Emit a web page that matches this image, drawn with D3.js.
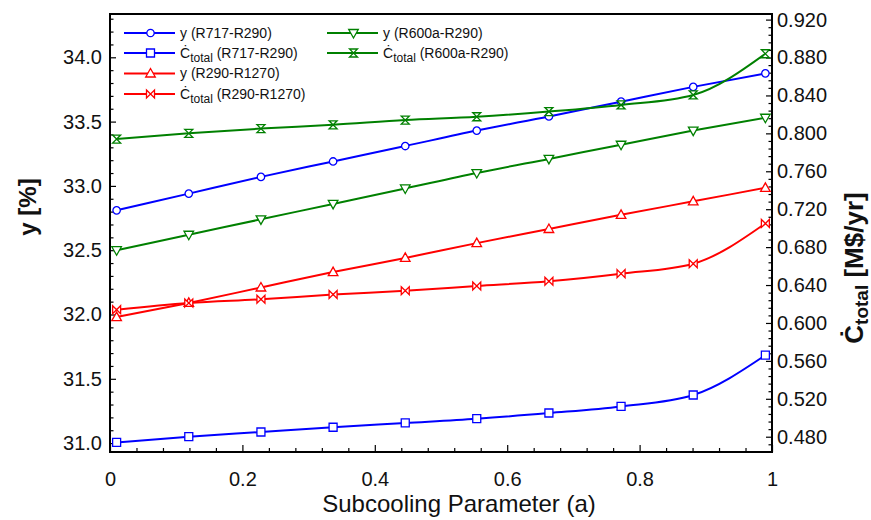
<!DOCTYPE html>
<html>
<head>
<meta charset="utf-8">
<script src="https://cdn.jsdelivr.net/npm/d3@7"></script>
<style>
  html, body { margin: 0; padding: 0; background: #fff; }
  svg { display: block; font-family: "Liberation Sans", Arial, sans-serif; }
</style>
</head>
<body>
<svg id="chart" width="871" height="520"></svg>
<script>
// Subcooling parameter values (x)
const aValues = [0.01, 0.119, 0.228, 0.337, 0.446, 0.554, 0.663, 0.772, 0.881, 0.99];

// Exergy efficiency y [%] (left axis)
const yR717R290  = [32.81, 32.94, 33.07, 33.19, 33.31, 33.43, 33.54, 33.655, 33.77, 33.875];
const yR290R1270 = [31.98, 32.09, 32.21, 32.33, 32.44, 32.555, 32.665, 32.775, 32.88, 32.985];
const yR600aR290 = [32.50, 32.62, 32.74, 32.86, 32.98, 33.10, 33.21, 33.32, 33.43, 33.53];

// Total cost rate [M$/yr] (right axis)
const cR717R290  = [0.474, 0.480, 0.485, 0.490, 0.4945, 0.499, 0.505, 0.512, 0.524, 0.566];
const cR290R1270 = [0.614, 0.621, 0.625, 0.630, 0.634, 0.639, 0.644, 0.652, 0.6625, 0.705];
const cR600aR290 = [0.794, 0.800, 0.805, 0.809, 0.814, 0.8175, 0.823, 0.830, 0.8405, 0.884];

// Tick labels
const xTicks = [0, 0.2, 0.4, 0.6, 0.8, 1];
const xTickLabels = ["0", "0.2", "0.4", "0.6", "0.8", "1"];
const yLeftTicks = [31.0, 31.5, 32.0, 32.5, 33.0, 33.5, 34.0];
const yRightTicks = [0.48, 0.52, 0.56, 0.60, 0.64, 0.68, 0.72, 0.76, 0.80, 0.84, 0.88, 0.92];

const seriesDefs = [
  { key: "yR717",  label: "y", pair: "(R717-R290)",   values: yR717R290,  axis: "left",  color: "#0000ff", marker: "circle" },
  { key: "cR717",  label: "C", pair: "(R717-R290)",   values: cR717R290,  axis: "right", color: "#0000ff", marker: "square" },
  { key: "yR290",  label: "y", pair: "(R290-R1270)",  values: yR290R1270, axis: "left",  color: "#ff0000", marker: "triUp" },
  { key: "cR290",  label: "C", pair: "(R290-R1270)",  values: cR290R1270, axis: "right", color: "#ff0000", marker: "bowtie" },
  { key: "yR600a", label: "y", pair: "(R600a-R290)",  values: yR600aR290, axis: "left",  color: "#008000", marker: "triDown" },
  { key: "cR600a", label: "C", pair: "(R600a-R290)",  values: cR600aR290, axis: "right", color: "#008000", marker: "hourglass" }
];

const plot = { left: 110, top: 14, right: 772, bottom: 452 };

const x = d3.scaleLinear().domain([0, 1]).range([plot.left, plot.right]);
const yL = d3.scaleLinear().domain([30.9308, 34.3367]).range([plot.bottom, plot.top]);
const yR = d3.scaleLinear().domain([0.46388, 0.92591]).range([plot.bottom, plot.top]);

const svg = d3.select("#chart");

// marker path generators centred on (0,0)
function markerPath(type) {
  const s = 4;
  switch (type) {
    case "square": return `M${-s},${-s}H${s}V${s}H${-s}Z`;
    case "triUp": return `M0,${-s - 1}L${s + 0.8},${s - 0.5}H${-s - 0.8}Z`;
    case "triDown": return `M0,${s + 1}L${s + 0.8},${-s + 0.5}H${-s - 0.8}Z`;
    case "bowtie": return `M${-s},${-s}L${s},${s}V${-s}L${-s},${s}Z`;
    case "hourglass": return `M${-s},${-s}H${s}L${-s},${s}H${s}Z`;
    default: return null;
  }
}

function drawMarker(g, type, color) {
  if (type === "circle") {
    g.append("circle").attr("r", 3.7).attr("fill", "#fff").attr("stroke", color).attr("stroke-width", 1.3);
  } else {
    g.append("path").attr("d", markerPath(type)).attr("fill", "#fff")
      .attr("stroke", color).attr("stroke-width", 1.3).attr("stroke-linejoin", "miter");
  }
}

// ---- axes ----
const axisG = svg.append("g");

// minor ticks
const xMinor = d3.range(0, 1.0001, 0.04).filter(v => !xTicks.some(t => Math.abs(t - v) < 1e-6));
const yLMinor = d3.range(31.0, 34.3001, 0.1).filter(v => !yLeftTicks.some(t => Math.abs(t - v) < 1e-6));
const yRMinor = d3.range(0.472, 0.9251, 0.008).filter(v => !yRightTicks.some(t => Math.abs(t - v) < 1e-6));

const bottomAxis = d3.axisBottom(x).tickValues(xTicks).tickFormat((d, i) => xTickLabels[i]).tickSizeInner(-7).tickSizeOuter(0).tickPadding(20);
const bottomMinor = d3.axisBottom(x).tickValues(xMinor).tickFormat("").tickSizeInner(-4).tickSizeOuter(0);
const leftAxis = d3.axisLeft(yL).tickValues(yLeftTicks).tickFormat(d3.format(".1f")).tickSizeInner(-6).tickSizeOuter(0).tickPadding(8);
const leftMinor = d3.axisLeft(yL).tickValues(yLMinor).tickFormat("").tickSizeInner(-3.5).tickSizeOuter(0);
const rightAxis = d3.axisRight(yR).tickValues(yRightTicks).tickFormat(d3.format(".3f")).tickSizeInner(-6).tickSizeOuter(0).tickPadding(5);
const rightMinor = d3.axisRight(yR).tickValues(yRMinor).tickFormat("").tickSizeInner(-3.5).tickSizeOuter(0);

function styleAxis(g) {
  g.select(".domain").remove();
  g.selectAll(".tick line").attr("stroke", "#000").attr("stroke-width", 1.2);
  g.selectAll(".tick text").attr("fill", "#111").style("font-size", "20px").style("font-family", "'Liberation Sans', Arial, sans-serif");
}

axisG.append("g").attr("transform", `translate(0,${plot.bottom})`).call(bottomMinor).call(styleAxis);
axisG.append("g").attr("transform", `translate(0,${plot.bottom})`).call(bottomAxis).call(styleAxis);
axisG.append("g").attr("transform", `translate(${plot.left},0)`).call(leftMinor).call(styleAxis);
axisG.append("g").attr("transform", `translate(${plot.left},0)`).call(leftAxis).call(styleAxis);
axisG.append("g").attr("transform", `translate(${plot.right},0)`).call(rightMinor).call(styleAxis);
axisG.append("g").attr("transform", `translate(${plot.right},0)`).call(rightAxis).call(styleAxis);

// frame
svg.append("rect")
  .attr("x", plot.left).attr("y", plot.top)
  .attr("width", plot.right - plot.left).attr("height", plot.bottom - plot.top)
  .attr("fill", "none").attr("stroke", "#000").attr("stroke-width", 2);

// ---- series ----
const seriesG = svg.append("g");
seriesDefs.forEach(s => {
  const yScale = s.axis === "left" ? yL : yR;
  const pts = aValues.map((a, i) => [x(a), yScale(s.values[i])]);
  const line = d3.line().curve(d3.curveMonotoneX);
  seriesG.append("path")
    .attr("d", line(pts))
    .attr("fill", "none")
    .attr("stroke", s.color)
    .attr("stroke-width", 2);
  pts.forEach(p => {
    const g = seriesG.append("g").attr("transform", `translate(${p[0]},${p[1]})`);
    drawMarker(g, s.marker, s.color);
  });
});

// ---- legend ----
const legendPos = [
  { x: 124, y: 33 }, { x: 124, y: 53 }, { x: 124, y: 73.5 }, { x: 124, y: 94 },
  { x: 327, y: 33 }, { x: 327, y: 53 }
];
const legendOrder = ["yR717", "cR717", "yR290", "cR290", "yR600a", "cR600a"];
const legendG = svg.append("g");
legendOrder.forEach((k, i) => {
  const s = seriesDefs.find(d => d.key === k);
  const p = legendPos[i];
  const g = legendG.append("g").attr("transform", `translate(${p.x},${p.y})`);
  g.append("line").attr("x1", 0).attr("x2", 51).attr("y1", 0).attr("y2", 0)
    .attr("stroke", s.color).attr("stroke-width", 2);
  const m = g.append("g").attr("transform", "translate(26.5,0)");
  drawMarker(m, s.marker, s.color);
  const t = g.append("text").attr("x", 56).attr("y", 4.5)
    .attr("fill", "#111").style("font-size", "14px");
  if (s.label === "y") {
    t.append("tspan").text("y " + s.pair);
  } else {
    t.append("tspan").text("\u010A");
    t.append("tspan").attr("dy", 4).style("font-size", "12px").text("total");
    t.append("tspan").attr("dy", -4).text(" " + s.pair);
  }
});

// ---- axis titles ----
svg.append("text")
  .attr("x", 459).attr("y", 512)
  .attr("text-anchor", "middle")
  .attr("fill", "#111")
  .style("font-size", "24px")
  .text("Subcooling Parameter (a)");

svg.append("text")
  .attr("transform", "translate(36,207) rotate(-90)")
  .attr("text-anchor", "middle")
  .attr("fill", "#111")
  .style("font-size", "24px").style("font-weight", "bold")
  .text("y [%]");

const rt = svg.append("text")
  .attr("transform", "translate(863,268) rotate(-90)")
  .attr("text-anchor", "middle")
  .attr("fill", "#111")
  .style("font-size", "26px").style("font-weight", "bold");
rt.append("tspan").text("\u010A");
rt.append("tspan").attr("dy", 5).style("font-size", "19px").text("total");
rt.append("tspan").attr("dy", -5).text(" [M$/yr]");
</script>
</body>
</html>
